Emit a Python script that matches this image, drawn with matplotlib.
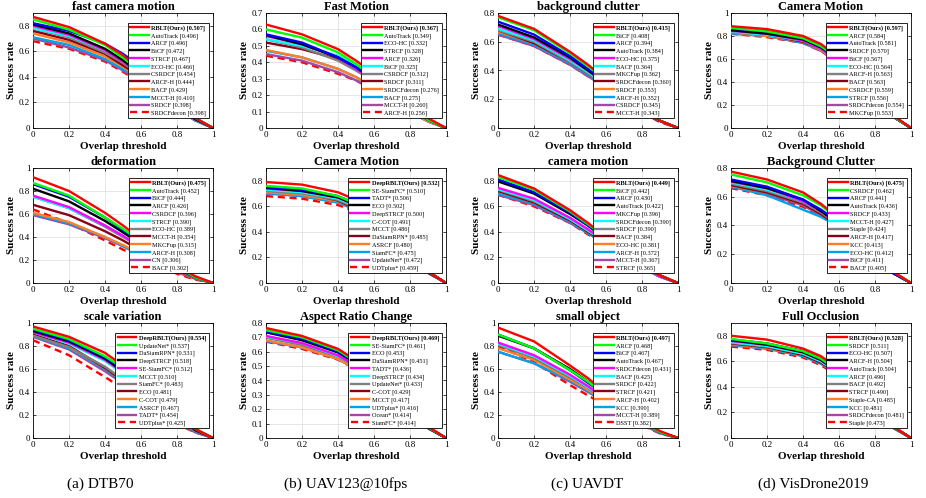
import numpy as np
import matplotlib
matplotlib.use('Agg')
import matplotlib.pyplot as plt
from matplotlib.ticker import FormatStrFormatter, MultipleLocator

plt.rcParams['font.family'] = ['Liberation Serif', 'DejaVu Serif']

X = [0, 0.2, 0.4, 0.5, 0.6, 0.7, 0.8, 0.9, 1.0]

COLORS = ['#ff0000', '#00ff00', '#0000ff', '#000000', '#ff00ff', '#00ffff',
          '#808080', '#880015', '#ff7f27', '#00a2e8', '#a349a4', '#ff0000']

# ---- (a) DTB70 ----
A1_TITLE = 'fast camera motion'
A1_NAMES = ['RBLT(Ours)', 'AutoTrack', 'ARCF', 'BiCF', 'STRCF', 'ECO-HC', 'CSRDCF',
            'ARCF-H', 'BACF', 'MCCT-H', 'SRDCF', 'SRDCFdecon']
A1_AUC = [0.507, 0.496, 0.496, 0.472, 0.467, 0.466, 0.454, 0.444, 0.429, 0.410, 0.398, 0.398]
A1_Y = [[.87, .79, .66, .57, .45, .32, .19, .08, 0],
        [.85, .77, .65, .55, .44, .31, .19, .08, 0],
        [.82, .76, .66, .58, .48, .34, .21, .08, 0],
        [.81, .74, .62, .53, .42, .30, .18, .07, 0],
        [.80, .73, .61, .52, .42, .30, .18, .07, 0],
        [.78, .72, .61, .53, .43, .31, .18, .07, 0],
        [.78, .71, .59, .51, .41, .29, .17, .07, 0],
        [.76, .69, .58, .49, .40, .28, .17, .07, 0],
        [.74, .67, .56, .48, .38, .27, .16, .07, 0],
        [.71, .65, .54, .46, .37, .26, .16, .06, 0],
        [.70, .63, .53, .45, .36, .26, .15, .06, 0],
        [.68, .62, .52, .44, .35, .25, .15, .06, 0]]

A2_TITLE = 'deformation'
A2_NAMES = ['RBLT(Ours)', 'AutoTrack', 'BiCF', 'ARCF', 'CSRDCF', 'STRCF', 'ECO-HC',
            'MCCT-H', 'MKCFup', 'ARCF-H', 'CN', 'BACF']
A2_AUC = [0.475, 0.452, 0.444, 0.426, 0.396, 0.390, 0.389, 0.354, 0.315, 0.308, 0.306, 0.302]
A2_Y = [[.92, .80, .61, .50, .38, .26, .15, .06, 0],
        [.87, .76, .57, .47, .36, .24, .14, .05, 0],
        [.86, .75, .57, .46, .35, .24, .14, .05, 0],
        [.82, .71, .54, .44, .34, .23, .13, .05, 0],
        [.76, .66, .50, .41, .31, .21, .12, .05, 0],
        [.75, .65, .50, .41, .31, .21, .12, .05, 0],
        [.75, .65, .49, .40, .31, .21, .12, .04, 0],
        [.68, .59, .45, .37, .28, .19, .11, .04, 0],
        [.61, .53, .40, .33, .25, .17, .10, .04, 0],
        [.60, .52, .40, .32, .25, .17, .10, .04, 0],
        [.59, .51, .39, .32, .24, .17, .09, .04, 0],
        [.64, .52, .37, .29, .22, .15, .08, .03, 0]]

A3_TITLE = 'scale variation'
A3_NAMES = ['DeepRBLT(Ours)', 'UpdateNet*', 'DaSiamRPN*', 'DeepSTRCF', 'SE-SiamFC*', 'MCCT',
            'SiamFC*', 'ECO', 'C-COT', 'ASRCF', 'TADT*', 'UDTplus*']
A3_AUC = [0.554, 0.537, 0.531, 0.518, 0.512, 0.510, 0.483, 0.481, 0.479, 0.467, 0.454, 0.425]
A3_Y = [[.97, .88, .74, .63, .50, .35, .20, .08, 0],
        [.95, .86, .71, .61, .48, .34, .20, .08, 0],
        [.94, .85, .70, .60, .48, .34, .20, .08, 0],
        [.93, .84, .69, .58, .46, .32, .19, .07, 0],
        [.92, .83, .68, .57, .45, .32, .18, .07, 0],
        [.92, .82, .67, .56, .44, .31, .18, .07, 0],
        [.89, .79, .62, .51, .39, .27, .15, .06, 0],
        [.90, .80, .61, .50, .39, .27, .15, .06, 0],
        [.90, .79, .61, .50, .39, .27, .15, .06, 0],
        [.89, .78, .60, .49, .37, .25, .14, .055, 0],
        [.88, .77, .58, .475, .36, .25, .14, .05, 0],
        [.85, .72, .53, .43, .33, .22, .12, .05, 0]]

# ---- (b) UAV123@10fps ----
B1_TITLE = 'Fast Motion'
B1_NAMES = ['RBLT(Ours)', 'AutoTrack', 'ECO-HC', 'STRCF', 'ARCF', 'BiCF', 'CSRDCF',
            'SRDCF', 'SRDCFdecon', 'BACF', 'MCCT-H', 'ARCF-H']
B1_AUC = [0.367, 0.349, 0.332, 0.328, 0.326, 0.325, 0.312, 0.311, 0.276, 0.275, 0.260, 0.256]
B1_Y = [[.63, .57, .48, .41, .33, .23, .14, .06, 0],
        [.60, .55, .46, .39, .31, .22, .13, .05, 0],
        [.57, .52, .43, .37, .30, .21, .13, .05, 0],
        [.565, .51, .43, .37, .29, .21, .12, .05, 0],
        [.56, .51, .43, .36, .29, .21, .12, .05, 0],
        [.54, .50, .44, .38, .31, .23, .14, .05, 0],
        [.54, .49, .41, .35, .28, .20, .12, .05, 0],
        [.52, .48, .42, .37, .30, .22, .13, .05, 0],
        [.475, .43, .36, .31, .25, .18, .10, .04, 0],
        [.47, .43, .36, .31, .24, .17, .10, .04, 0],
        [.45, .41, .34, .29, .23, .17, .10, .04, 0],
        [.44, .40, .33, .29, .23, .16, .10, .04, 0]]

B2_TITLE = 'Camera Motion'
B2_NAMES = ['DeepRBLT(Ours)', 'SE-SiamFC*', 'TADT*', 'ECO', 'DeepSTRCF', 'C-COT', 'MCCT',
            'DaSiamRPN*', 'ASRCF', 'SiamFC*', 'UpdateNet*', 'UDTplus*']
B2_AUC = [0.532, 0.510, 0.506, 0.502, 0.500, 0.491, 0.486, 0.485, 0.480, 0.475, 0.472, 0.459]
B2_Y = [[.79, .77, .71, .65, .55, .40, .24, .09, 0],
        [.76, .74, .68, .62, .52, .39, .23, .09, 0],
        [.75, .73, .68, .62, .52, .38, .23, .09, 0],
        [.745, .72, .67, .61, .51, .38, .22, .09, 0],
        [.74, .72, .67, .61, .51, .38, .22, .09, 0],
        [.73, .71, .66, .60, .50, .37, .22, .09, 0],
        [.72, .70, .65, .59, .50, .37, .22, .09, 0],
        [.75, .71, .645, .58, .48, .35, .21, .08, 0],
        [.71, .69, .64, .58, .49, .36, .21, .09, 0],
        [.705, .68, .63, .58, .49, .36, .21, .08, 0],
        [.70, .68, .63, .57, .48, .36, .21, .08, 0],
        [.68, .66, .61, .56, .47, .35, .20, .08, 0]]

B3_TITLE = 'Aspect Ratio Change'
B3_NAMES = ['DeepRBLT(Ours)', 'SE-SiamFC*', 'ECO', 'DaSiamRPN*', 'TADT*', 'DeepSTRCF',
            'UpdateNet*', 'C-COT', 'MCCT', 'UDTplus*', 'Ocean*', 'SiamFC*']
B3_AUC = [0.469, 0.461, 0.453, 0.451, 0.436, 0.434, 0.433, 0.429, 0.417, 0.416, 0.414, 0.414]
B3_Y = [[.765, .71, .62, .54, .44, .32, .19, .08, 0],
        [.75, .70, .61, .53, .435, .315, .19, .075, 0],
        [.74, .69, .60, .525, .43, .31, .185, .075, 0],
        [.735, .68, .595, .52, .425, .31, .18, .07, 0],
        [.71, .66, .575, .50, .41, .30, .18, .07, 0],
        [.705, .66, .57, .50, .41, .30, .18, .07, 0],
        [.70, .65, .57, .50, .41, .30, .18, .07, 0],
        [.70, .65, .57, .50, .405, .29, .17, .07, 0],
        [.68, .63, .55, .48, .39, .29, .17, .07, 0],
        [.675, .63, .55, .48, .39, .28, .17, .07, 0],
        [.675, .63, .55, .48, .39, .28, .17, .07, 0],
        [.67, .62, .545, .48, .39, .28, .17, .07, 0]]

# ---- (c) UAVDT ----
C1_TITLE = 'background clutter'
C1_NAMES = ['RBLT(Ours)', 'BiCF', 'ARCF', 'AutoTrack', 'ECO-HC', 'BACF', 'MKCFup',
            'SRDCFdecon', 'SRDCF', 'ARCF-H', 'CSRDCF', 'MCCT-H']
C1_AUC = [0.415, 0.408, 0.394, 0.384, 0.375, 0.364, 0.362, 0.360, 0.353, 0.352, 0.345, 0.343]
C1_Y = [[.78, .69, .53, .44, .34, .23, .13, .05, 0],
        [.77, .68, .52, .43, .33, .23, .13, .05, 0],
        [.74, .65, .50, .41, .32, .22, .13, .05, 0],
        [.72, .63, .49, .40, .31, .22, .12, .05, 0],
        [.71, .62, .48, .40, .31, .21, .12, .05, 0],
        [.69, .61, .47, .39, .30, .21, .12, .05, 0],
        [.68, .60, .46, .38, .29, .20, .12, .05, 0],
        [.68, .59, .46, .38, .29, .20, .11, .05, 0],
        [.67, .59, .46, .38, .29, .20, .11, .05, 0],
        [.66, .58, .45, .37, .29, .20, .11, .05, 0],
        [.65, .57, .44, .36, .28, .20, .11, .05, 0],
        [.65, .57, .44, .36, .28, .19, .11, .04, 0]]

C2_TITLE = 'camera motion'
C2_NAMES = ['RBLT(Ours)', 'BiCF', 'ARCF', 'AutoTrack', 'MKCFup', 'SRDCFdecon', 'SRDCF',
            'BACF', 'ECO-HC', 'ARCF-H', 'MCCT-H', 'STRCF']
C2_AUC = [0.449, 0.442, 0.430, 0.422, 0.396, 0.390, 0.390, 0.384, 0.381, 0.372, 0.367, 0.365]
C2_Y = [[.845, .74, .57, .47, .36, .25, .14, .06, 0],
        [.83, .73, .56, .46, .36, .25, .14, .06, 0],
        [.81, .71, .55, .45, .35, .24, .14, .06, 0],
        [.795, .70, .54, .45, .34, .24, .14, .06, 0],
        [.745, .66, .51, .42, .32, .22, .13, .05, 0],
        [.735, .65, .50, .41, .32, .22, .12, .05, 0],
        [.73, .64, .50, .41, .32, .22, .13, .05, 0],
        [.72, .63, .49, .40, .31, .22, .12, .05, 0],
        [.72, .63, .49, .40, .31, .21, .12, .05, 0],
        [.70, .62, .48, .39, .30, .21, .12, .05, 0],
        [.69, .61, .47, .39, .30, .21, .12, .05, 0],
        [.69, .60, .47, .38, .30, .21, .12, .05, 0]]

C3_TITLE = 'small object'
C3_NAMES = ['RBLT(Ours)', 'ARCF', 'BiCF', 'AutoTrack', 'SRDCFdecon', 'BACF', 'SRDCF',
            'STRCF', 'ARCF-H', 'KCC', 'MCCT-H', 'DSST']
C3_AUC = [0.497, 0.468, 0.467, 0.467, 0.431, 0.425, 0.422, 0.421, 0.402, 0.390, 0.389, 0.382]
C3_Y = [[.96, .84, .63, .52, .39, .27, .15, .06, 0],
        [.90, .78, .59, .49, .37, .25, .14, .05, 0],
        [.90, .78, .59, .48, .37, .25, .14, .05, 0],
        [.89, .78, .60, .49, .37, .25, .14, .05, 0],
        [.83, .72, .55, .45, .34, .23, .13, .05, 0],
        [.82, .71, .54, .44, .34, .23, .13, .05, 0],
        [.81, .70, .53, .44, .33, .23, .13, .05, 0],
        [.81, .70, .53, .44, .33, .22, .13, .05, 0],
        [.78, .68, .51, .42, .32, .22, .12, .05, 0],
        [.75, .65, .50, .41, .31, .21, .12, .05, 0],
        [.75, .65, .49, .40, .31, .21, .12, .04, 0],
        [.80, .66, .46, .37, .28, .19, .11, .04, 0]]

# ---- (d) VisDrone2019 ----
D1_TITLE = 'Camera Motion'
D1_NAMES = ['RBLT(Ours)', 'ARCF', 'AutoTrack', 'SRDCF', 'BiCF', 'ECO-HC', 'ARCF-H',
            'BACF', 'CSRDCF', 'STRCF', 'SRDCFdecon', 'MKCFup']
D1_AUC = [0.597, 0.584, 0.581, 0.570, 0.567, 0.564, 0.563, 0.563, 0.559, 0.556, 0.554, 0.553]
D1_Y = [[.885, .86, .80, .73, .61, .45, .27, .11, 0],
        [.87, .84, .78, .71, .60, .44, .26, .10, 0],
        [.865, .84, .78, .71, .60, .44, .26, .10, 0],
        [.85, .82, .77, .70, .59, .43, .26, .10, 0],
        [.845, .82, .76, .69, .58, .43, .25, .10, 0],
        [.84, .81, .76, .69, .58, .43, .25, .10, 0],
        [.83, .81, .76, .69, .58, .43, .26, .10, 0],
        [.835, .81, .75, .69, .58, .43, .25, .10, 0],
        [.83, .80, .75, .68, .57, .42, .25, .10, 0],
        [.825, .80, .74, .68, .57, .42, .25, .10, 0],
        [.82, .80, .74, .67, .57, .42, .25, .10, 0],
        [.82, .79, .74, .67, .56, .42, .25, .10, 0]]

D2_TITLE = 'Background Clutter'
D2_NAMES = ['RBLT(Ours)', 'CSRDCF', 'ARCF', 'AutoTrack', 'SRDCF', 'MCCT-H', 'Staple',
            'ARCF-H', 'KCC', 'ECO-HC', 'BiCF', 'BACF']
D2_AUC = [0.475, 0.462, 0.441, 0.436, 0.433, 0.427, 0.424, 0.417, 0.413, 0.412, 0.411, 0.405]
D2_Y = [[.775, .72, .63, .55, .45, .33, .19, .08, 0],
        [.755, .70, .61, .54, .44, .32, .19, .08, 0],
        [.72, .67, .58, .51, .42, .30, .18, .07, 0],
        [.71, .66, .58, .50, .41, .30, .18, .07, 0],
        [.705, .66, .57, .50, .41, .30, .18, .07, 0],
        [.70, .65, .57, .50, .41, .29, .17, .07, 0],
        [.69, .64, .56, .49, .40, .29, .17, .07, 0],
        [.68, .63, .55, .48, .39, .29, .17, .07, 0],
        [.675, .63, .55, .48, .39, .28, .17, .07, 0],
        [.67, .61, .51, .46, .39, .29, .18, .07, 0],
        [.67, .62, .54, .47, .39, .28, .17, .07, 0],
        [.66, .61, .53, .47, .38, .28, .17, .07, 0]]

D3_TITLE = 'Full Occlusion'
D3_NAMES = ['RBLT(Ours)', 'SRDCF', 'ECO-HC', 'ARCF-H', 'AutoTrack', 'ARCF', 'BACF',
            'STRCF', 'Staple-CA', 'KCC', 'SRDCFdecon', 'Staple']
D3_AUC = [0.528, 0.511, 0.507, 0.504, 0.504, 0.496, 0.492, 0.490, 0.485, 0.481, 0.481, 0.473]
D3_Y = [[.80, .77, .70, .64, .54, .39, .23, .09, 0],
        [.775, .74, .68, .62, .52, .38, .22, .09, 0],
        [.77, .74, .68, .62, .52, .38, .22, .09, 0],
        [.765, .73, .67, .61, .51, .37, .22, .09, 0],
        [.76, .73, .68, .61, .51, .37, .22, .09, 0],
        [.75, .72, .66, .60, .50, .37, .22, .09, 0],
        [.745, .715, .66, .60, .50, .365, .22, .085, 0],
        [.74, .71, .65, .59, .50, .36, .21, .085, 0],
        [.735, .705, .65, .59, .49, .36, .21, .085, 0],
        [.73, .70, .64, .58, .49, .36, .21, .08, 0],
        [.725, .70, .645, .585, .49, .36, .21, .08, 0],
        [.715, .69, .63, .57, .48, .35, .21, .08, 0]]

PANELS = [
    [(A1_TITLE, A1_NAMES, A1_AUC, A1_Y, 0.9, 0.2), (B1_TITLE, B1_NAMES, B1_AUC, B1_Y, 0.7, 0.1),
     (C1_TITLE, C1_NAMES, C1_AUC, C1_Y, 0.8, 0.2), (D1_TITLE, D1_NAMES, D1_AUC, D1_Y, 1.0, 0.2)],
    [(A2_TITLE, A2_NAMES, A2_AUC, A2_Y, 1.0, 0.2), (B2_TITLE, B2_NAMES, B2_AUC, B2_Y, 0.9, 0.2),
     (C2_TITLE, C2_NAMES, C2_AUC, C2_Y, 0.9, 0.2), (D2_TITLE, D2_NAMES, D2_AUC, D2_Y, 0.8, 0.2)],
    [(A3_TITLE, A3_NAMES, A3_AUC, A3_Y, 1.0, 0.2), (B3_TITLE, B3_NAMES, B3_AUC, B3_Y, 0.8, 0.1),
     (C3_TITLE, C3_NAMES, C3_AUC, C3_Y, 1.0, 0.2), (D3_TITLE, D3_NAMES, D3_AUC, D3_Y, 0.9, 0.2)],
]
CAPTIONS = ['(a) DTB70', '(b) UAV123@10fps', '(c) UAVDT', '(d) VisDrone2019']
CAPTION_X = [100, 346, 587, 813]

W, H = 926, 498
COL_LEFT = [33, 266, 498, 731]
ROW_TOP = [13, 168, 323]
AX_W, AX_H = 180, 115


def draw_panel(ax, title, names, aucs, curves, ytop, ystep):
    lines = []
    for i in range(len(names)):
        ls = '--' if i == len(names) - 1 else '-'
        ln, = ax.plot(X, curves[i], color=COLORS[i], lw=1.7, ls=ls,
                      zorder=20 - i, dashes=(3, 2) if ls == '--' else (None, None))
        lines.append(ln)
    ax.set_xlim(0, 1)
    ax.set_ylim(0, ytop)
    ax.xaxis.set_major_locator(MultipleLocator(0.2))
    ax.yaxis.set_major_locator(MultipleLocator(ystep))
    ax.xaxis.set_major_formatter(FormatStrFormatter('%g'))
    ax.yaxis.set_major_formatter(FormatStrFormatter('%g'))
    ax.tick_params(direction='in', length=2.5, width=0.5, labelsize=6.5, pad=2,
                   top=True, right=True)
    ax.grid(True, color='#dcdcdc', lw=0.5)
    ax.set_axisbelow(True)
    for s in ax.spines.values():
        s.set_linewidth(0.6)
    ax.set_title(title, fontsize=9, fontweight='bold', pad=2)
    ax.set_xlabel('Overlap threshold', fontsize=8, fontweight='bold', labelpad=2)
    ax.set_ylabel('Success rate', fontsize=8, fontweight='bold', labelpad=2)
    labels = [f'{n} [{a:.3f}]' for n, a in zip(names, aucs)]
    leg = ax.legend(lines, labels, loc='upper right', fontsize=4.5, handlelength=3.0,
                    handletextpad=0.4, labelspacing=0.3, borderpad=0.35,
                    borderaxespad=0.0, fancybox=False, framealpha=1,
                    edgecolor='black', bbox_to_anchor=(0.975, 0.915))
    leg.get_frame().set_linewidth(0.6)
    leg.set_zorder(30)
    leg.get_texts()[0].set_fontweight('bold')


fig = plt.figure(figsize=(W / 100, H / 100), dpi=100)
for r in range(3):
    for c in range(4):
        rect = [COL_LEFT[c] / W, 1 - (ROW_TOP[r] + AX_H) / H, AX_W / W, AX_H / H]
        ax = fig.add_axes(rect)
        draw_panel(ax, *PANELS[r][c])

for c in range(4):
    fig.text(CAPTION_X[c] / W, 1 - 484 / H, CAPTIONS[c],
             ha='center', va='center', fontsize=11)

fig.savefig('out.png', dpi=100)
